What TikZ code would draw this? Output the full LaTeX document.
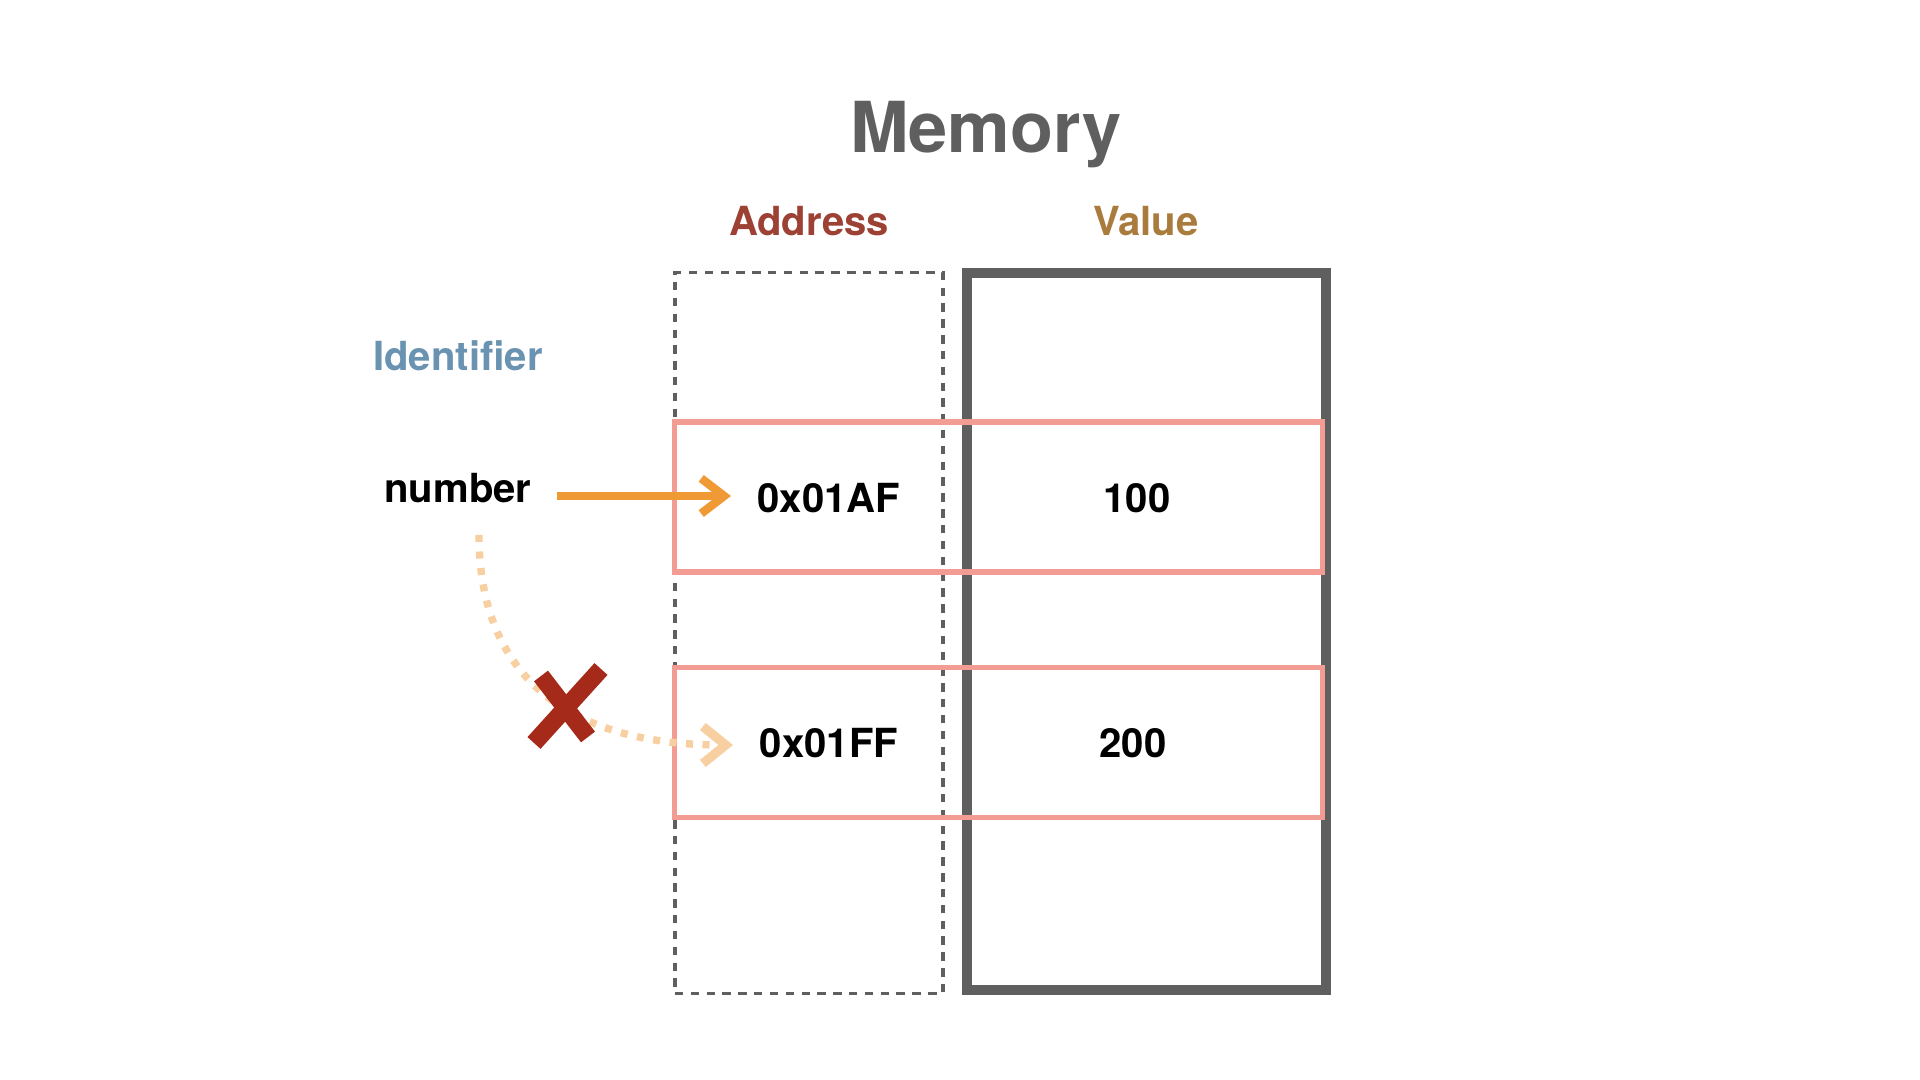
\documentclass[tikz,border=0pt]{standalone}
\usepackage{fontspec}
\setmainfont{TeX Gyre Heros}
\usetikzlibrary{arrows.meta}
\definecolor{memgray}{HTML}{5F5F5F}
\definecolor{addrcol}{HTML}{9C4134}
\definecolor{valcol}{HTML}{A97B3D}
\definecolor{identcol}{HTML}{6A93B1}
\definecolor{pinkrow}{HTML}{F29C93}
\definecolor{arroworange}{HTML}{EF9A35}
\definecolor{paleorange}{HTML}{F8CFA0}
\definecolor{xred}{HTML}{A52A1A}
\tikzset{
  txt/.style={inner sep=0pt, outer sep=0pt, anchor=base, font=\bfseries\fontsize{11.4pt}{13pt}\selectfont},
  celltxt/.style={txt, text=black},
  dashcol/.style={draw=memgray, line width=0.95pt, dash pattern=on 2.4pt off 2.1pt, inner sep=0pt, minimum width=2.68cm, minimum height=7.2cm},
  solidcol/.style={draw=memgray, line width=2.85pt, inner sep=0pt, minimum width=3.59cm, minimum height=7.17cm},
  rowbox/.style={draw=pinkrow, line width=1.5pt, inner sep=0pt, minimum width=6.47cm, minimum height=1.5cm},
  goodarrow/.style={draw=arroworange, line width=2.4pt, -{Straight Barb[length=6.5pt,width=10pt,line width=2.4pt 0]}},
  badline/.style={draw=paleorange, line width=2.1pt, dash pattern=on 2pt off 2.7pt},
  badhead/.style={draw=paleorange, line width=2.3pt, -{Straight Barb[length=6.5pt,width=10.5pt,line width=2.6pt 0]}},
  xstroke/.style={draw=xred, line width=5pt}
}
\begin{document}
\begin{tikzpicture}[x=0.01cm, y=-0.01cm]
\useasboundingbox (0,0) rectangle (1920,1080);
% title and headers
\node[txt, text=memgray, font=\bfseries\fontsize{20pt}{24pt}\selectfont] (title) at (986,153) {Memory};
\node[txt, text=addrcol] (addrh) at (809,236) {Address};
\node[txt, text=valcol] (valh) at (1146,236) {Value};
\node[txt, text=identcol] (ident) at (458,371) {Identifier};
\node[txt, text=black] (num) at (458,503) {number};
% columns
\node[dashcol] (addrbox) at (809,633) {};
\node[solidcol] (valbox) at (1146.5,631.5) {};
% rows
\node[rowbox] (row1) at (998.5,497) {};
\node[rowbox] (row2) at (998.5,742.5) {};
% cell texts
\node[celltxt] (a1) at (829,513) {0x01AF};
\node[celltxt] (v1) at (1137,513) {100};
\node[celltxt] (a2) at (829,758) {0x01FF};
\node[celltxt] (v2) at (1133,758) {200};
% connectors
\coordinate (s1) at (557,496);
\coordinate (e1) at (731,496);
\draw[goodarrow] (s1) -- (e1);
\coordinate (s2) at (479,535);
\coordinate (e2) at (722,745);
\coordinate (e2tip) at (733,745);
\draw[badline] (s2) .. controls (479,665) and (555,745) .. (e2);
\draw[badhead] (e2) -- (e2tip);
% red cross
\coordinate (X) at (565,707);
\draw[xstroke] ([shift={(-31,36)}]X) -- ([shift={(36,-38)}]X);
\draw[xstroke] ([shift={(-24,-31)}]X) -- ([shift={(23,30)}]X);
\end{tikzpicture}
\end{document}
